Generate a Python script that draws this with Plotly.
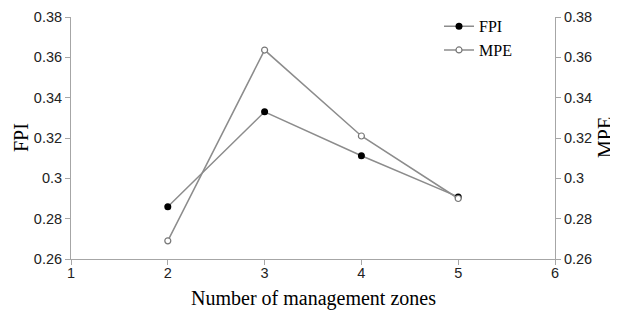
import plotly.graph_objects as go

zones = [2, 3, 4, 5]
fpi = [0.2859, 0.3330, 0.3112, 0.2908]
mpe = [0.2690, 0.3636, 0.3210, 0.2900]
y_ticks = [0.26, 0.28, 0.30, 0.32, 0.34, 0.36, 0.38]
y_tick_labels = ["0.26", "0.28", "0.3", "0.32", "0.34", "0.36", "0.38"]
x_ticks = [1, 2, 3, 4, 5, 6]

line_col = "#8c8c8c"
axis_col = "#a6a6a6"
tick_font = dict(family="Liberation Sans, Arial", size=14.5, color="#222")
title_font = dict(family="Liberation Serif, Times New Roman", size=20, color="#000")

# page body has an 8px margin, so figure coords = screen coords - 8
W, H = 610, 302
L, R, T, B = 63, 63, 9, 51
plot_w = W - L - R
plot_h = H - T - B

fig = go.Figure()
fig.add_trace(go.Scatter(
    x=zones, y=fpi, name="FPI", mode="lines+markers",
    line=dict(color=line_col, width=1.5),
    marker=dict(color="#000", size=7, symbol="circle"),
))
fig.add_trace(go.Scatter(
    x=zones, y=mpe, name="MPE", mode="lines+markers", yaxis="y2",
    line=dict(color=line_col, width=1.5),
    marker=dict(color="#fff", size=6, symbol="circle",
                line=dict(color="#777", width=1.2)),
))

common_y = dict(range=[0.26, 0.38], tickvals=y_ticks, ticktext=y_tick_labels,
                showgrid=False, zeroline=False, showline=True, linecolor=axis_col,
                linewidth=1, ticks="outside", ticklen=5, tickcolor=axis_col,
                tickfont=tick_font, automargin=False)

fig.update_layout(
    width=W, height=H,
    margin=dict(l=L, r=R, t=T, b=B, autoexpand=False),
    paper_bgcolor="white", plot_bgcolor="white",
    showlegend=True,
    legend=dict(x=(439 - 8 - L) / plot_w, y=1.032, xanchor="left", yanchor="top",
                font=dict(family="Liberation Serif, Times New Roman", size=16, color="#000"),
                bgcolor="rgba(0,0,0,0)", tracegroupgap=0, itemwidth=30),
    xaxis=dict(range=[1, 6], tickvals=x_ticks, showgrid=False, zeroline=False,
               showline=True, linecolor=axis_col, linewidth=1, ticks="outside",
               ticklen=5, tickcolor=axis_col, tickfont=tick_font, automargin=False,
               ticklabelstandoff=-4),
    yaxis=dict(**common_y),
    yaxis2=dict(**common_y, overlaying="y", side="right"),
    annotations=[
        dict(text="Number of management zones", xref="paper", yref="paper",
             x=0.5, y=-(290 - (H - B)) / plot_h, showarrow=False, font=title_font,
             xanchor="center", yanchor="middle"),
        dict(text="FPI", xref="paper", yref="paper", x=(13 - L) / plot_w, y=0.5,
             textangle=-90, showarrow=False, font=title_font,
             xanchor="center", yanchor="middle"),
        dict(text="MPE", xref="paper", yref="paper", x=(597 - L) / plot_w, y=0.5,
             textangle=-90, showarrow=False, font=title_font,
             xanchor="center", yanchor="middle"),
    ],
)

fig.write_html("out.html")
